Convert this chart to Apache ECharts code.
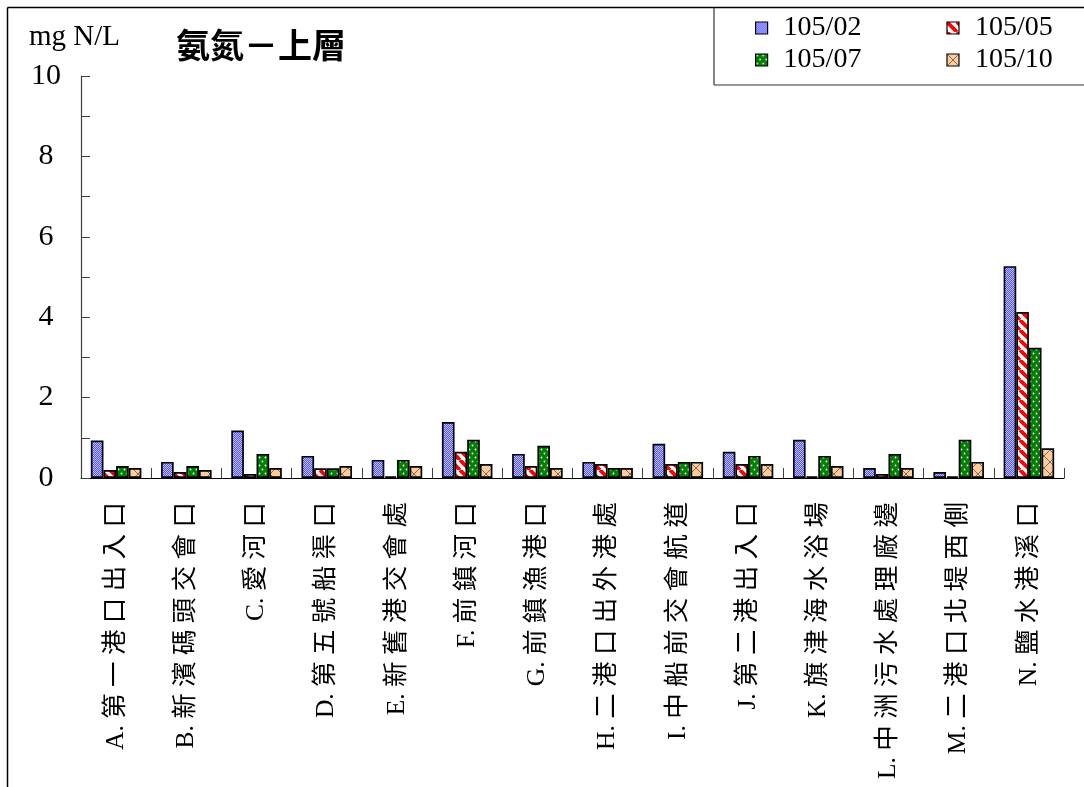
<!DOCTYPE html>
<html>
<head>
<meta charset="utf-8">
<script src="https://cdn.jsdelivr.net/npm/echarts@6/dist/echarts.min.js"></script>
<style>html,body{margin:0;padding:0;background:#fff;}#c{width:1084px;height:787px;}</style>
</head>
<body>
<div id="c"></div>
<script>
const categories = [
  'A. 第一港口出入口','B. 新濱碼頭交會口','C. 愛河口','D. 第五號船渠口','E. 新舊港交會處',
  'F. 前鎮河口','G. 前鎮漁港口','H. 二港口出外港處','I. 中船前交會航道','J. 第二港出入口',
  'K. 旗津海水浴場','L. 中洲污水處理廠邊','M. 二港口北堤西側','N. 鹽水港溪口'
];
const seriesNames = ['105/02','105/05','105/07','105/10'];
const v10502 = [0.93,0.40,1.18,0.55,0.45,1.39,0.60,0.40,0.85,0.65,0.95,0.25,0.15,5.27];
const v10505 = [0.20,0.15,0.10,0.24,0.04,0.65,0.30,0.35,0.35,0.35,0.04,0.10,0.04,4.13];
const v10507 = [0.30,0.30,0.60,0.24,0.45,0.95,0.80,0.25,0.40,0.55,0.55,0.60,0.95,3.24];
const v10510 = [0.25,0.20,0.25,0.30,0.30,0.35,0.25,0.25,0.40,0.35,0.30,0.25,0.40,0.74];
const yTicks = [0,2,4,6,8,10];

function mk(w,h,draw){const c=document.createElement('canvas');c.width=w;c.height=h;const g=c.getContext('2d');draw(g);return {image:c,repeat:'repeat'};}
const pBlue = mk(2,2,g=>{g.fillStyle='#5555ff';g.fillRect(0,0,2,2);g.fillStyle='#c0c0ff';g.fillRect(0,0,1,1);g.fillRect(1,1,1,1);});
const pRed = mk(10,10,g=>{g.fillStyle='#fff';g.fillRect(0,0,10,10);g.strokeStyle='#ff0000';g.lineWidth=3.8;
  [-10,0,10].forEach(o=>{g.beginPath();g.moveTo(o,0);g.lineTo(o+10,10);g.stroke();});});
const pGreen = mk(6,8,g=>{g.fillStyle='#008000';g.fillRect(0,0,6,8);g.fillStyle='#fff';
  g.beginPath();g.arc(1.5,1.5,0.9,0,Math.PI*2);g.fill();g.beginPath();g.arc(4.5,5.5,0.9,0,Math.PI*2);g.fill();});
const pTan = mk(12,12,g=>{g.fillStyle='#ffcc99';g.fillRect(0,0,12,12);g.strokeStyle='#555';g.lineWidth=0.8;
  g.beginPath();g.moveTo(0,0);g.lineTo(12,12);g.moveTo(12,0);g.lineTo(0,12);g.stroke();});
const patterns = [pBlue,pRed,pGreen,pTan];
const values = [v10502,v10505,v10507,v10510];

const serif = "'Liberation Serif','Noto Sans CJK TC'";
const chart = echarts.init(document.getElementById('c'));
const legendBase = {
  orient:'horizontal', padding:0, icon:'rect', itemWidth:12, itemHeight:12, itemGap:85,
  textStyle:{fontSize:28, fontFamily:serif, color:'#000', padding:[0,0,0,11]},
  itemStyle:{borderColor:'#000', borderWidth:1.2}
};
chart.setOption({
  animation:false,
  title:[
    {text:'mg N/L', left:29, top:23, padding:0, textStyle:{fontSize:29, fontFamily:serif, fontWeight:'normal', color:'#000'}},
    {text:'氨氮－上層', left:176, top:28, padding:0, textStyle:{fontSize:34, fontFamily:"'Noto Sans CJK TC'", fontWeight:'bold', color:'#000'}}
  ],
  legend:[
    Object.assign({}, legendBase, {left:755, top:14, data:[seriesNames[0],seriesNames[1]]}),
    Object.assign({}, legendBase, {left:755, top:46, data:[seriesNames[2],seriesNames[3]]})
  ],
  grid:{left:81, right:20, top:76, bottom:309, containLabel:false},
  xAxis:{
    type:'category', data:categories,
    axisLine:{lineStyle:{color:'#000', width:1.2}},
    axisTick:{show:true, inside:true, length:10, interval:0, lineStyle:{color:'#404040'}},
    axisLabel:{interval:0, rotate:90, margin:24, fontSize:25.5, fontFamily:serif, color:'#000',
      formatter:v=>v.replace(/([\u3400-\u9fff])(?=[\u3400-\u9fff])/g,'$1 ')}
  },
  yAxis:{
    type:'value', min:yTicks[0], max:yTicks[yTicks.length-1], interval:2,
    axisLine:{show:true, lineStyle:{color:'#404040', width:1.2}},
    axisTick:{show:true, inside:true, length:9, lineStyle:{color:'#404040'}},
    minorTick:{show:true, splitNumber:2, length:9, lineStyle:{color:'#404040'}},
    splitLine:{show:false},
    axisLabel:{fontSize:30, fontFamily:serif, color:'#000', align:'center', margin:35}
  },
  series: seriesNames.map((n,i)=>({
    name:n, type:'bar', data:values[i], barGap:'0%', barCategoryGap:'28%',
    itemStyle:{color:patterns[i], borderColor:'#000', borderWidth:1.7}
  })),
  graphic:[
    {type:'line', shape:{x1:7.5,y1:7.5,x2:1084,y2:7.5}, style:{stroke:'#000', lineWidth:1.5}},
    {type:'line', shape:{x1:7.5,y1:7.5,x2:7.5,y2:787}, style:{stroke:'#000', lineWidth:1.5}},
    {type:'line', shape:{x1:714,y1:7.5,x2:714,y2:85}, style:{stroke:'#333', lineWidth:1.2}},
    {type:'line', shape:{x1:714,y1:85,x2:1084,y2:85}, style:{stroke:'#333', lineWidth:1.2}}
  ]
});
</script>
</body>
</html>
